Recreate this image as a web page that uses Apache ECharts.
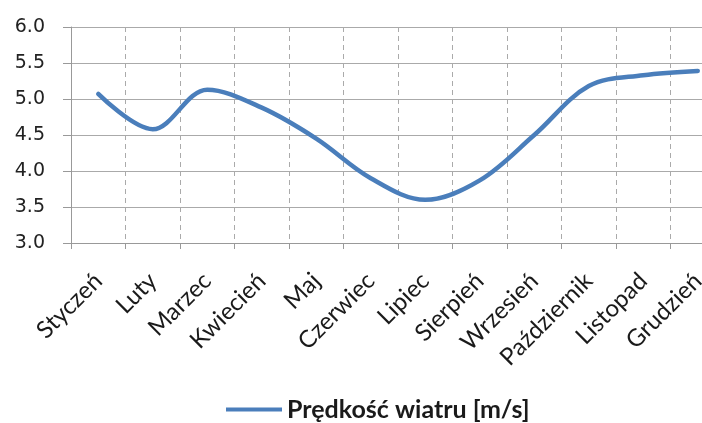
<!DOCTYPE html>
<html>
<head>
<meta charset="utf-8">
<script src="https://cdn.jsdelivr.net/npm/echarts@6/dist/echarts.min.js"></script>
<style>html,body{margin:0;padding:0;background:#fff;}#c{width:702px;height:423px;}</style>
</head>
<body>
<div id="c"></div>
<script>
const categories = ['Styczeń','Luty','Marzec','Kwiecień','Maj','Czerwiec','Lipiec','Sierpień','Wrzesień','Październik','Listopad','Grudzień'];
const windSpeed = [5.07, 4.58, 5.13, 4.88, 4.45, 3.90, 3.60, 3.87, 4.50, 5.18, 5.33, 5.39];
const seriesName = 'Prędkość wiatru [m/s]';
const yMin = 3.0, yMax = 6.0, yStep = 0.5;

const chart = echarts.init(document.getElementById('c'), null, {renderer: 'canvas'});
chart.setOption({
  animation: false,
  backgroundColor: '#fff',
  grid: {left: 71, width: 654, top: 27, height: 216, containLabel: false, outerBoundsMode: 'none'},
  legend: {
    left: 221, top: 392,
    data: [{name: seriesName, icon: 'rect'}],
    itemWidth: 56, itemHeight: 4, itemGap: 3,
    textStyle: {fontFamily: 'Lato', fontWeight: 'bold', fontSize: 25, color: '#1a1a1a'}
  },
  xAxis: {
    type: 'category',
    data: categories,
    boundaryGap: true,
    axisLine: {show: true, lineStyle: {color: '#999', width: 1}},
    axisTick: {show: true, length: 6, inside: false, lineStyle: {color: '#999'}},
    axisLabel: {rotate: 45, interval: 0, margin: 34, fontFamily: 'Lato', fontSize: 24, color: '#1a1a1a'},
    splitLine: {show: true, lineStyle: {type: [5, 4], color: '#aaa', width: 1}}
  },
  yAxis: {
    type: 'value',
    min: yMin, max: yMax, interval: yStep,
    axisLine: {show: true, lineStyle: {color: '#999', width: 1}},
    axisTick: {show: true, length: 8, lineStyle: {color: '#999'}},
    axisLabel: {margin: 26, fontFamily: 'DejaVu Sans', fontSize: 19, color: '#222', formatter: v => v.toFixed(1)},
    splitLine: {show: true, lineStyle: {color: '#aaa', width: 1}}
  },
  series: [{
    name: seriesName,
    type: 'line',
    data: windSpeed,
    smooth: 0.35,
    symbol: 'none',
    lineStyle: {color: '#4a7ebb', width: 4.5, cap: 'round'},
    itemStyle: {color: '#4a7ebb'}
  }]
});
</script>
</body>
</html>
